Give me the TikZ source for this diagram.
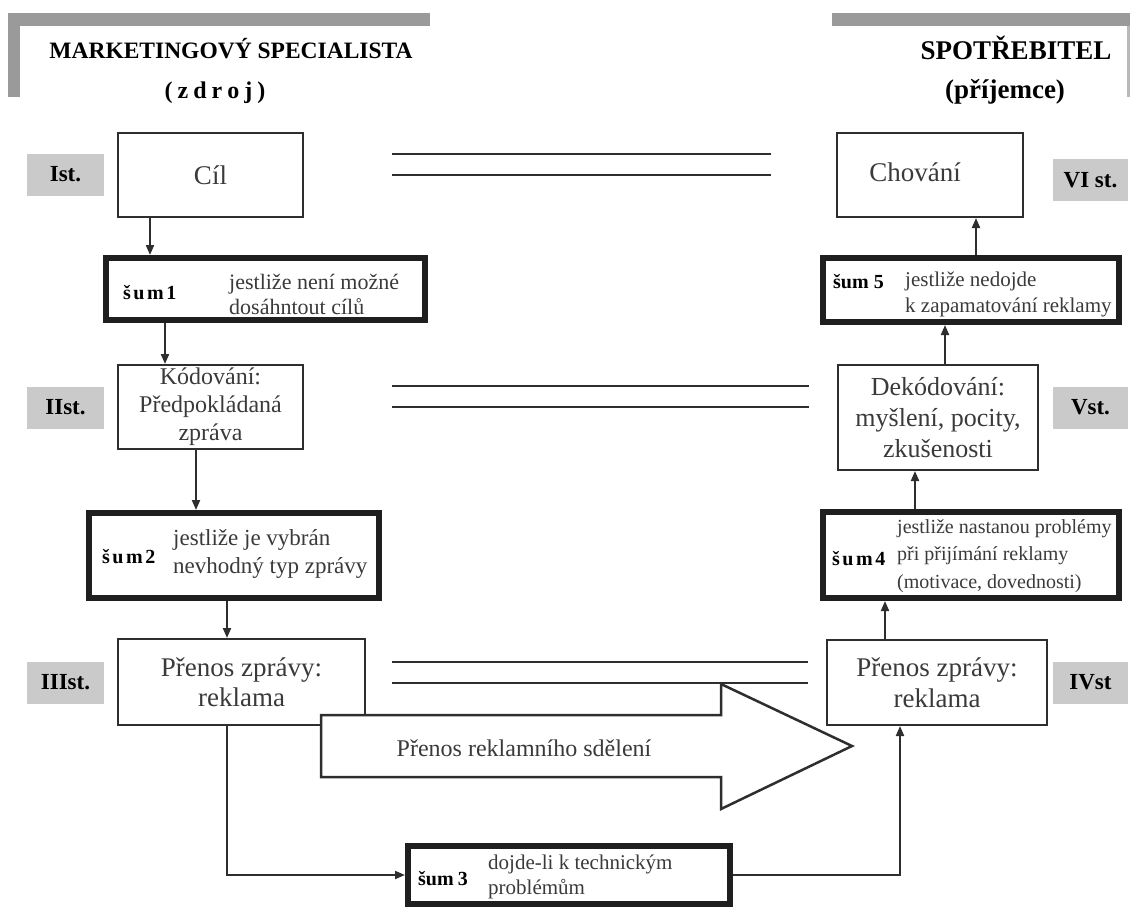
\documentclass[tikz,border=0pt]{standalone}
\usepackage{fontspec}
\setmainfont{Liberation Serif}
\usetikzlibrary{arrows.meta}
\newcommand\setfs[2]{\fontsize{#1}{#2}\selectfont}
\definecolor{bargray}{HTML}{9A9A9A}
\definecolor{stagegray}{HTML}{CACACA}
\definecolor{ink}{HTML}{2E2E2E}
\definecolor{txt}{HTML}{3A3A3A}

\begin{document}
\begin{tikzpicture}[x=1pt,y=-1pt,
  stage/.style={fill=stagegray, inner sep=0pt, minimum width=77pt, minimum height=42pt,
    font=\bfseries\setfs{23}{26}},
  box/.style={draw=ink, line width=2pt, inner sep=0pt, align=center, text=txt},
  noise/.style={draw=black!88, line width=6pt, inner sep=0pt},
  lab/.style={anchor=west, inner sep=0pt, font=\bfseries\setfs{20}{24}},
  desc/.style={anchor=west, inner sep=0pt, align=left, text=txt},
  arr/.style={draw=ink, line width=2pt, -{Triangle[length=10pt,width=8pt]}},
  dbl/.style={draw=ink, line width=2.5pt},
  title/.style={anchor=base, inner sep=0pt, font=\bfseries}]

\useasboundingbox (0,0) rectangle (1130,908);

% header bars
\fill[bargray] (8,13) rectangle (430,26);
\fill[bargray] (8,13) rectangle (20,97);
\fill[bargray] (832,13) rectangle (1130,26);
\fill[bargray!70] (1127,26) rectangle (1130,97);

% headings
\node[title, font=\bfseries\setfs{23.5}{26}] (src) at (231,58) {MARKETINGOVÝ SPECIALISTA};
\node[title, font=\bfseries\setfs{24}{26}] (srcsub) at (215,98)
  {(\kern5pt z\kern5pt d\kern5pt r\kern5pt o\kern5pt j\kern5pt)};
\node[title, font=\bfseries\setfs{27}{30}] (dst) at (1016,59) {SPOTŘEBITEL};
\node[title, font=\bfseries\setfs{27}{30}] (dstsub) at (1005,98) {(příjemce)};

% stage labels
\node[stage] (st1) at (65.5,174.5) {Ist.};
\node[stage] (st2) at (65.5,407.5) {IIst.};
\node[stage] (st3) at (65.5,682.5) {IIIst.};
\node[stage, minimum width=75pt] (st6) at (1090.5,180) {VI st.};
\node[stage, minimum width=75pt] (st5) at (1090.5,407.5) {Vst.};
\node[stage, minimum width=75pt] (st4) at (1090.5,682.5) {IVst};

% double lines between the two sides
\draw[dbl] (392,154) -- (771,154);
\draw[dbl] (392,175) -- (771,175);
\draw[dbl] (392,386) -- (809,386);
\draw[dbl] (392,407) -- (809,407);
\draw[dbl] (392,662) -- (808,662);
\draw[dbl] (392,683) -- (808,683);

% guide columns for the vertical connectors
\coordinate (gA) at (150,0);
\coordinate (gB) at (165,0);
\coordinate (gC) at (196,0);
\coordinate (gD) at (227,0);
\coordinate (gE) at (900,0);
\coordinate (gF) at (885,0);
\coordinate (gG) at (915,0);
\coordinate (gH) at (945,0);
\coordinate (gI) at (976,0);

% sender side
\node[box, minimum width=185pt, minimum height=84pt, font=\setfs{27}{30}] (cil) at (210.5,175) {Cíl};
\node[noise, minimum width=319pt, minimum height=62pt] (s1) at (265.5,289) {};
\node[box, minimum width=185pt, minimum height=84pt, font=\setfs{24}{28}] (kod) at (210.5,407)
  {Kódování:\\Předpokládaná\\zpráva};
\node[noise, minimum width=290pt, minimum height=85pt] (s2) at (234,555.5) {};
\node[box, minimum width=247pt, minimum height=86pt, font=\setfs{27}{30}] (prl) at (241.5,682)
  {Přenos zprávy:\\reklama};

% receiver side
\node[box, minimum width=186pt, minimum height=84pt] (chov) at (930,175) {};
\node[noise, minimum width=296pt, minimum height=64pt] (s5) at (971,290) {};
\node[box, minimum width=200pt, minimum height=105pt, font=\setfs{26}{31}] (dek) at (938,417.5)
  {Dekódování:\\myšlení, pocity,\\zkušenosti};
\node[noise, minimum width=296pt, minimum height=86pt] (s4) at (971,555) {};
\node[box, minimum width=220pt, minimum height=85pt, font=\setfs{27}{31}] (prr) at (937,682.5)
  {Přenos zprávy:\\reklama};

% technical noise
\node[noise, minimum width=322pt, minimum height=58pt] (s3) at (569,875) {};

% connectors
\draw[arr] (cil.south -| gA) -- (s1.north -| gA);
\draw[arr] (s1.south -| gB) -- (kod.north -| gB);
\draw[arr] (kod.south -| gC) -- (s2.north -| gC);
\draw[arr] (s2.south -| gD) -- (prl.north -| gD);
\draw[arr] (prl.south -| gD) |- (s3.west);
\draw[arr] (s3.east) -| (prr.south -| gE);
\draw[arr] (prr.north -| gF) -- (s4.south -| gF);
\draw[arr] (s4.north -| gG) -- (dek.south -| gG);
\draw[arr] (dek.north -| gH) -- (s5.south -| gH);
\draw[arr] (s5.north -| gI) -- (chov.south -| gI);

% broad arrow of the advertising message
\draw[draw=ink, line width=2.5pt, fill=white, line join=miter]
  (321,715) -- (721,715) -- (721,684) -- (852,746) -- (721,809) -- (721,777) -- (321,777) -- cycle;
\node[inner sep=0pt, text=txt, font=\setfs{24}{27}] (msg) at (524,748) {Přenos reklamního sdělení};

% box texts
\node[inner sep=0pt, text=txt, font=\setfs{27}{30}] (chovt) at (915,172) {Chování};

\node[lab] (s1l) at (123,293) {š\kern2.5pt u\kern2.5pt m\kern2.5pt 1};
\node[desc, font=\setfs{22}{25}] (s1t) at (229,294.5) {jestliže není možné\\dosáhntout cílů};

\node[lab] (s2l) at (102,557) {š\kern2.5pt u\kern2.5pt m\kern2.5pt 2};
\node[desc, font=\setfs{23}{28}] (s2t) at (173,554) {jestliže je vybrán\\nevhodný typ zprávy};

\node[lab] (s3l) at (418,879) {šum\kern4pt 3};
\node[desc, font=\setfs{21}{25}] (s3t) at (488,877) {dojde-li k technickým\\problémům};

\node[lab] (s4l) at (832,559) {š\kern2.5pt u\kern2.5pt m\kern2.5pt 4};
\node[desc, font=\setfs{20}{27.5}] (s4t) at (897,556)
  {jestliže nastanou problémy\\při přijímání reklamy\\(motivace, dovednosti)};

\node[lab] (s5l) at (833,282) {šum\kern5pt 5};
\node[desc, font=\setfs{21}{26}] (s5t) at (905,294) {jestliže nedojde\\k zapamatování reklamy};

\end{tikzpicture}
\end{document}
